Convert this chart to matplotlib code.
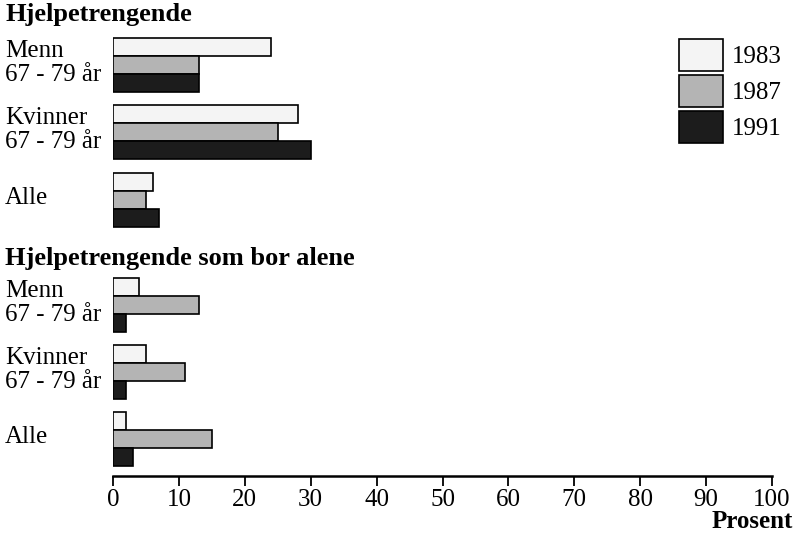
import matplotlib.pyplot as plt
import numpy as np

plt.rcParams['font.family'] = ['Liberation Serif', 'DejaVu Serif']

years = ['1983', '1987', '1991']
groups = ['Menn\n67 - 79 år', 'Kvinner\n67 - 79 år', 'Alle']

# Hjelpetrengende
alle_hjelp = {
    '1983': [24, 28, 6],
    '1987': [13, 25, 5],
    '1991': [13, 30, 7],
}
# Hjelpetrengende som bor alene
bor_alene = {
    '1983': [4, 5, 2],
    '1987': [13, 11, 15],
    '1991': [2, 2, 3],
}

colors = {'1983': '#f4f4f4', '1987': '#b4b4b4', '1991': '#1c1c1c'}

fig = plt.figure(figsize=(7.95, 5.34), dpi=100)
ax = fig.add_axes([113 / 795, 58 / 534, 659 / 795, 476 / 534])

# vertical layout (in pixel-like units, top = 0)
group_centres = [np.array([65, 132, 200]), np.array([305, 372, 439])]
bar_h = 18

for k, (centres, data) in enumerate(zip(group_centres, [alle_hjelp, bor_alene])):
    for j, yr in enumerate(years):
        ax.barh(centres + (j - 1) * bar_h, data[yr], height=bar_h,
                color=colors[yr], edgecolor='black', linewidth=1.2,
                label=yr if k == 0 else None)
    for c, g in zip(centres, groups):
        ax.text(5 / 795, 1 - (c - 2) / 534, g, transform=fig.transFigure,
                fontsize=18, va='center', ha='left', linespacing=1.12)

ax.set_xlim(0, 100)
ax.set_ylim(476, 0)
ax.set_xticks(range(0, 101, 10))
ax.tick_params(axis='x', direction='out', length=7, width=1.3, labelsize=18, pad=2)
ax.set_yticks([])
for s in ['left', 'right', 'top']:
    ax.spines[s].set_visible(False)
ax.spines['bottom'].set_linewidth(1.8)

fig.text(5 / 795, 1 - 15 / 534, 'Hjelpetrengende', fontsize=19,
         fontweight='bold', va='center', ha='left')
fig.text(5 / 795, 1 - 258 / 534, 'Hjelpetrengende som bor alene', fontsize=19,
         fontweight='bold', va='center', ha='left')
fig.text(793 / 795, 1 - 521 / 534, 'Prosent', fontsize=18,
         fontweight='bold', va='center', ha='right')

leg = ax.legend(loc='upper left', bbox_to_anchor=(664 / 795, 1 - 24 / 534),
                bbox_transform=fig.transFigure, frameon=False, fontsize=18,
                handlelength=1.75, handleheight=1.6, labelspacing=0.15,
                handletextpad=0.35, borderpad=0.1)

fig.savefig('out.png', dpi=100)
